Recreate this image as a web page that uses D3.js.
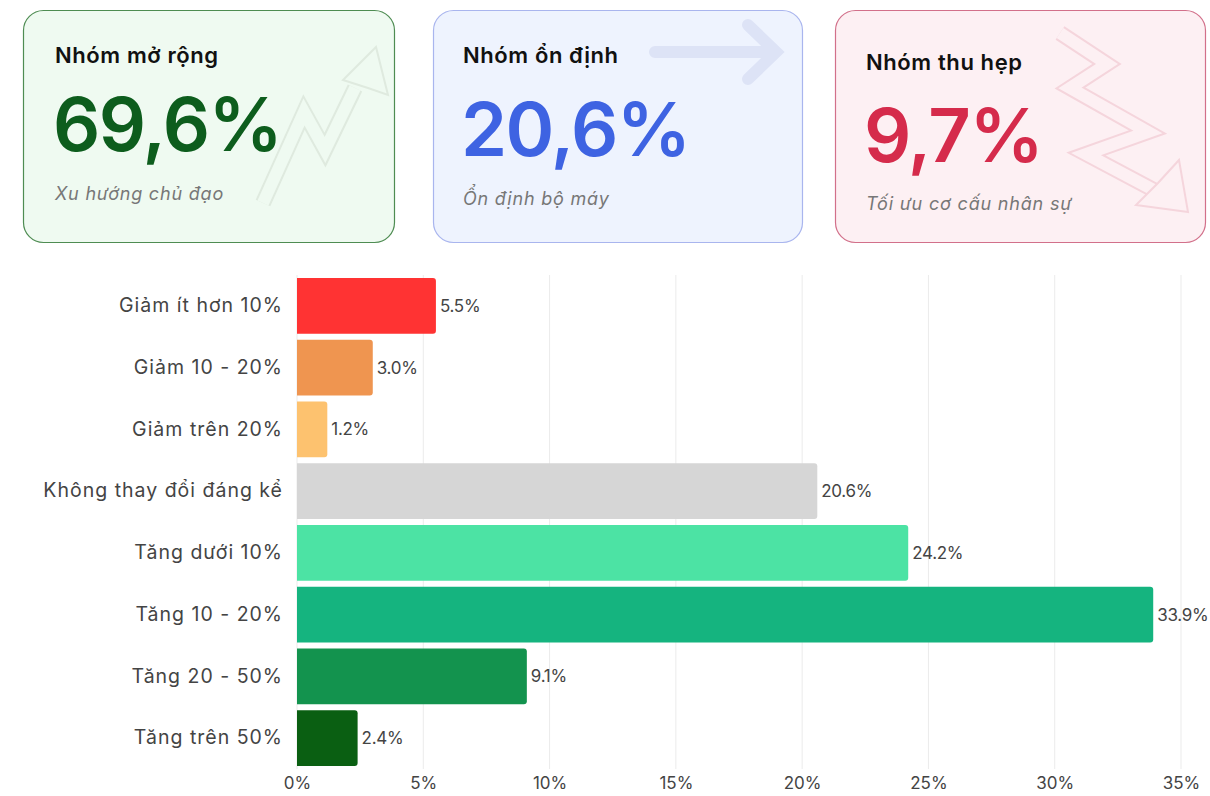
<!DOCTYPE html>
<html>
<head>
<meta charset="utf-8">
<script src="https://cdn.jsdelivr.net/npm/d3@7"></script>
<style>
  html, body { margin: 0; padding: 0; background: #ffffff; }
  svg { display: block; font-family: Inter, "Open Sans", sans-serif; }
</style>
</head>
<body>
<script>
// categories and values
var categories = ["Giảm ít hơn 10%", "Giảm 10 - 20%", "Giảm trên 20%", "Không thay đổi đáng kể",
                  "Tăng dưới 10%", "Tăng 10 - 20%", "Tăng 20 - 50%", "Tăng trên 50%"];
var values = [5.5, 3.0, 1.2, 20.6, 24.2, 33.9, 9.1, 2.4];
var barColors = ["#ff3333", "#ef9550", "#fdc26f", "#d6d6d6", "#4ce3a4", "#15b47f", "#13934e", "#0a5f12"];
var xTicks = [0, 5, 10, 15, 20, 25, 30, 35];

// summary cards
var cardTitles = ["Nhóm mở rộng", "Nhóm ổn định", "Nhóm thu hẹp"];
var cardValues = ["69,6%", "20,6%", "9,7%"];
var cardNotes = ["Xu hướng chủ đạo", "Ổn định bộ máy", "Tối ưu cơ cấu nhân sự"];

const W = 1210, H = 796;
const svg = d3.select("body").append("svg").attr("width", W).attr("height", H);

// ---- cards ----
var cardBox = [
  {x: 23, y: 10, w: 371, h: 232, fill: "#effaf1", stroke: "#4e8c52", num: "#0d5d1d",
   tx: 55, ty: 63, ny: 151, sy: 200},
  {x: 433, y: 10, w: 369, h: 232, fill: "#eef3fe", stroke: "#a9b5ee", num: "#3e63e2",
   tx: 463, ty: 63, ny: 156, sy: 205},
  {x: 835, y: 10, w: 370, h: 232, fill: "#fdf0f3", stroke: "#d2708a", num: "#d52b4b",
   tx: 866, ty: 70, ny: 162, sy: 210}
];

var cards = svg.selectAll("g.card").data(cardBox).enter().append("g").attr("class", "card");
cards.append("rect")
  .attr("x", d => d.x + 0.5).attr("y", d => d.y + 0.5)
  .attr("width", d => d.w).attr("height", d => d.h)
  .attr("rx", 20)
  .attr("fill", d => d.fill).attr("stroke", d => d.stroke).attr("stroke-width", 1.2);

// faint decorations
function outlined(g, pts, col, bg, w) {
  var line = d3.line();
  g.append("path").attr("d", line(pts)).attr("fill", "none").attr("stroke", col)
    .attr("stroke-width", w).attr("stroke-linejoin", "miter");
  g.append("path").attr("d", line(pts)).attr("fill", "none").attr("stroke", bg)
    .attr("stroke-width", w - 4).attr("stroke-linejoin", "miter");
}
var deco = svg.append("g");
outlined(deco, [[263, 203], [304, 112], [325, 150], [355, 88]], "#dfeadf", "#effaf1", 16);
deco.append("path").attr("d", "M376,47 L388,95 L368,88 L343,80 Z")
  .attr("fill", "#effaf1").attr("stroke", "#dfeadf").attr("stroke-width", 2);
outlined(deco, [[1060, 33], [1107, 64], [1070, 88], [1148, 132], [1086, 154], [1165, 196]], "#f5d5dc", "#fdf0f3", 16);
deco.append("path").attr("d", "M1188,212 L1136,205 L1158,183 L1179,160 Z")
  .attr("fill", "#fdf0f3").attr("stroke", "#f5d5dc").attr("stroke-width", 2);
deco.append("path").attr("d", "M655,52 L776,52 M748,25 L776,52 L748,79")
  .attr("fill", "none").attr("stroke", "#dde3f6").attr("stroke-width", 12).attr("stroke-linecap", "round");

cards.append("text").attr("x", d => d.tx).attr("y", d => d.ty)
  .attr("font-size", 22).attr("font-weight", 600).attr("fill", "#111")
  .attr("letter-spacing", 0.6)
  .text((d, i) => cardTitles[i]);
cards.append("text").attr("x", d => d.tx - 2).attr("y", d => d.ny)
  .attr("font-size", 74).attr("font-weight", 600).attr("fill", d => d.num)
  .attr("letter-spacing", -1.5)
  .text((d, i) => cardValues[i]);
cards.append("text").attr("x", d => d.tx).attr("y", d => d.sy)
  .attr("font-size", 18).attr("font-style", "italic").attr("fill", "#777")
  .attr("letter-spacing", 0.8)
  .text((d, i) => cardNotes[i]);

// ---- bar chart ----
const margin = {left: 297, top: 275, bottom: 769};
const x = d3.scaleLinear().domain([0, 35]).range([margin.left, 1181]);
const y = d3.scaleBand().domain(categories).range([margin.top, margin.bottom]).paddingInner(0.1).paddingOuter(0.05);

svg.append("g").selectAll("line").data(xTicks).enter().append("line")
  .attr("x1", d => x(d)).attr("x2", d => x(d))
  .attr("y1", margin.top).attr("y2", margin.bottom)
  .attr("stroke", "#ebebeb").attr("stroke-width", 1);

function barPath(x0, y0, w, h, r) {
  r = Math.min(r, w);
  return "M" + x0 + "," + y0 + "H" + (x0 + w - r) +
    "Q" + (x0 + w) + "," + y0 + " " + (x0 + w) + "," + (y0 + r) +
    "V" + (y0 + h - r) +
    "Q" + (x0 + w) + "," + (y0 + h) + " " + (x0 + w - r) + "," + (y0 + h) +
    "H" + x0 + "Z";
}

svg.append("g").selectAll("path").data(values).enter().append("path")
  .attr("d", (d, i) => barPath(x(0), y(categories[i]), x(d) - x(0), y.bandwidth(), 3))
  .attr("fill", (d, i) => barColors[i]);

svg.append("g").selectAll("text").data(values).enter().append("text")
  .attr("x", d => x(d) + 4)
  .attr("y", (d, i) => y(categories[i]) + y.bandwidth() / 2)
  .attr("dy", "0.35em")
  .attr("font-size", 17).attr("fill", "#444").attr("letter-spacing", -0.3)
  .text(d => d.toFixed(1) + "%");

// y axis labels
const yAxis = d3.axisLeft(y).tickSize(0).tickPadding(14);
const gy = svg.append("g").attr("transform", "translate(" + margin.left + ",0)").call(yAxis);
gy.select(".domain").remove();
gy.selectAll("text").attr("font-size", 19.5).attr("fill", "#444")
  .attr("letter-spacing", 1).attr("font-family", "Inter, sans-serif");

// x axis labels
const xAxis = d3.axisBottom(x).tickValues(xTicks).tickSize(0).tickPadding(8).tickFormat(d => d + "%");
const gx = svg.append("g").attr("transform", "translate(0," + margin.bottom + ")").call(xAxis);
gx.select(".domain").remove();
gx.selectAll("text").attr("font-size", 17).attr("fill", "#444").attr("font-family", "Inter, sans-serif");
</script>
</body>
</html>
